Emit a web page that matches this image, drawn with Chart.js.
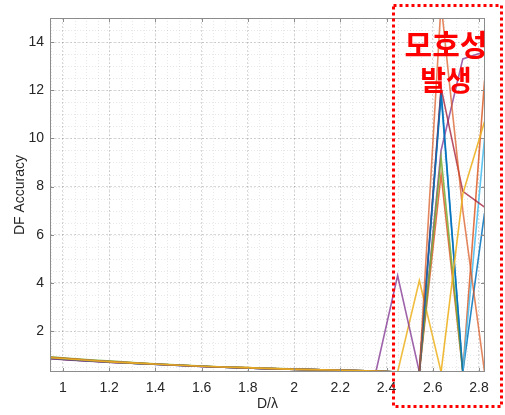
<!DOCTYPE html>
<html>
<head>
<meta charset="utf-8">
<script src="https://cdn.jsdelivr.net/npm/chart.js@4.4.1/dist/chart.umd.min.js"></script>
<style>
  html, body { margin: 0; padding: 0; background: #fff; }
</style>
</head>
<body>
<canvas id="chart" width="505" height="415"></canvas>
<script>
// D/lambda sample points
var dLambda = [0.944, 1.038, 1.132, 1.226, 1.320, 1.414, 1.508, 1.602, 1.696, 1.790, 1.884,
  1.978, 2.072, 2.166, 2.260, 2.354, 2.448, 2.542, 2.636, 2.730, 2.824];

var xTicks = [1, 1.2, 1.4, 1.6, 1.8, 2, 2.2, 2.4, 2.6, 2.8];
var xTickLabels = ["1", "1.2", "1.4", "1.6", "1.8", "2", "2.2", "2.4", "2.6", "2.8"];
var yTicks = [2, 4, 6, 8, 10, 12, 14];
var yTickLabels = ["2", "4", "6", "8", "10", "12", "14"];

// DF accuracy per run (MATLAB colour order)
var run1 = [0.86, 0.80, 0.75, 0.70, 0.65, 0.61, 0.57, 0.53, 0.50, 0.47, 0.44, 0.42, 0.40, 0.38, 0.36, 0.34, 0.30, 0.30, 12.0, 0.30, 6.9];
var run2 = [0.90, 0.84, 0.78, 0.72, 0.67, 0.62, 0.58, 0.54, 0.51, 0.48, 0.45, 0.42, 0.40, 0.38, 0.36, 0.34, 0.30, 0.30, 8.5, 0.30, 12.4];
var run3 = [0.88, 0.82, 0.76, 0.71, 0.66, 0.62, 0.58, 0.54, 0.50, 0.47, 0.44, 0.42, 0.40, 0.38, 0.36, 0.34, 0.30, 4.1, 0.30, 0.30, 0.30];
var run4 = [0.85, 0.79, 0.74, 0.69, 0.65, 0.61, 0.57, 0.53, 0.50, 0.47, 0.44, 0.42, 0.40, 0.38, 0.36, 0.31, 4.3, 0.30, 9.5, 13.3, 13.6];
var run5 = [0.93, 0.86, 0.80, 0.74, 0.68, 0.63, 0.59, 0.55, 0.51, 0.48, 0.45, 0.43, 0.40, 0.38, 0.36, 0.34, 0.30, 0.30, 9.2, 0.30, 0.30];
var run6 = [0.87, 0.81, 0.76, 0.71, 0.66, 0.61, 0.57, 0.54, 0.50, 0.47, 0.44, 0.42, 0.40, 0.38, 0.36, 0.34, 0.30, 0.30, 0.30, 0.30, 10.0];
var run7 = [0.86, 0.80, 0.75, 0.70, 0.65, 0.61, 0.57, 0.53, 0.50, 0.47, 0.44, 0.42, 0.40, 0.38, 0.36, 0.34, 0.30, 0.30, 12.1, 7.8, 7.15];
var run8 = [0.88, 0.82, 0.76, 0.71, 0.66, 0.62, 0.58, 0.54, 0.50, 0.47, 0.44, 0.42, 0.40, 0.38, 0.36, 0.34, 0.30, 0.30, 11.8, 0.30, 0.30];
var run9 = [0.91, 0.85, 0.78, 0.72, 0.67, 0.62, 0.58, 0.54, 0.50, 0.47, 0.44, 0.42, 0.40, 0.38, 0.36, 0.34, 0.30, 0.30, 15.6, 7.0, 0.30];
var run10 = [0.89, 0.83, 0.77, 0.71, 0.67, 0.62, 0.58, 0.54, 0.51, 0.48, 0.45, 0.42, 0.40, 0.38, 0.36, 0.34, 0.30, 0.30, 0.30, 7.7, 10.7];

var runs = [run1, run2, run3, run4, run5, run6, run7, run8, run9, run10];
var runColors = [
  "rgba(0, 114, 189, 0.85)", "rgba(217, 83, 25, 0.8)", "rgba(237, 177, 32, 0.85)",
  "rgba(126, 47, 142, 0.75)", "rgba(119, 172, 48, 0.85)", "rgba(77, 190, 238, 0.9)",
  "rgba(162, 20, 47, 0.75)", "rgba(0, 114, 189, 0.85)", "rgba(217, 83, 25, 0.7)",
  "rgba(237, 177, 32, 0.9)"
];

var datasets = runs.map(function (r, i) {
  return {
    label: "run " + (i + 1),
    data: r,
    borderColor: runColors[i],
    borderWidth: 1.6,
    pointRadius: 0,
    fill: false,
    tension: 0,
    order: runs.length - i // later runs on top, like MATLAB
  };
});

var axisGrey = "#8c8c8c";
var textColor = "#262626";
var fontFamily = '"Liberation Sans", Arial, sans-serif';

// minor grid, drawn under the lines
var minorGrid = {
  id: "minorGrid",
  beforeDatasetsDraw: function (chart) {
    var ctx = chart.ctx, a = chart.chartArea;
    var xs = chart.scales.x, ys = chart.scales.y;
    ctx.save();
    ctx.strokeStyle = "rgba(0,0,0,0.09)";
    ctx.lineWidth = 1;
    ctx.setLineDash([1, 2]);
    var v, p;
    for (v = 0.95; v < xs.max; v += 0.05) {
      p = Math.round(xs.getPixelForValue(v)) + 0.5;
      ctx.beginPath(); ctx.moveTo(p, a.top); ctx.lineTo(p, a.bottom); ctx.stroke();
    }
    for (v = 0.5; v < ys.max; v += 0.5) {
      p = Math.round(ys.getPixelForValue(v)) + 0.5;
      ctx.beginPath(); ctx.moveTo(a.left, p); ctx.lineTo(a.right, p); ctx.stroke();
    }
    ctx.restore();
  }
};

// axes box with inward ticks
var axesBox = {
  id: "axesBox",
  afterDatasetsDraw: function (chart) {
    var ctx = chart.ctx, a = chart.chartArea;
    var xs = chart.scales.x, ys = chart.scales.y;
    ctx.save();
    ctx.strokeStyle = axisGrey;
    ctx.lineWidth = 1;
    ctx.strokeRect(a.left + 0.5, a.top + 0.5, a.right - a.left - 1, a.bottom - a.top - 1);
    ctx.beginPath();
    xTicks.forEach(function (t) {
      var p = Math.round(xs.getPixelForValue(t)) + 0.5;
      ctx.moveTo(p, a.bottom); ctx.lineTo(p, a.bottom - 4);
      ctx.moveTo(p, a.top); ctx.lineTo(p, a.top + 4);
    });
    yTicks.forEach(function (t) {
      var p = Math.round(ys.getPixelForValue(t)) + 0.5;
      ctx.moveTo(a.left, p); ctx.lineTo(a.left + 4, p);
      ctx.moveTo(a.right, p); ctx.lineTo(a.right - 4, p);
    });
    ctx.stroke();
    ctx.restore();
  }
};

// red dotted box and label
var ambiguityNote = {
  id: "ambiguityNote",
  afterDraw: function (chart) {
    var ctx = chart.ctx;
    ctx.save();
    ctx.strokeStyle = "#ff0000";
    ctx.lineWidth = 3;
    ctx.setLineDash([3, 3]);
    ctx.strokeRect(393.5, 5.5, 108, 401);
    ctx.setLineDash([]);
    ctx.fillStyle = "#ff0000";
    ctx.textAlign = "center";
    ctx.textBaseline = "middle";
    ctx.font = 'bold 30px "Noto Sans CJK KR", sans-serif';
    ctx.fillText("모호성", 446, 45);
    ctx.font = 'bold 28px "Noto Sans CJK KR", sans-serif';
    ctx.fillText("발생", 446, 80);
    ctx.restore();
  }
};

new Chart(document.getElementById("chart").getContext("2d"), {
  type: "line",
  data: {
    labels: dLambda,
    datasets: datasets
  },
  options: {
    responsive: false,
    animation: false,
    layout: { padding: { top: 18, right: 20, left: 0, bottom: 0 } },
    plugins: {
      legend: { display: false },
      tooltip: { enabled: false }
    },
    scales: {
      x: {
        type: "linear",
        min: 0.944,
        max: 2.826,
        afterBuildTicks: function (scale) {
          scale.ticks = xTicks.map(function (v) { return { value: v }; });
        },
        afterFit: function (scale) { scale.height = 43; },
        ticks: {
          autoSkip: false,
          maxRotation: 0,
          padding: 8,
          color: textColor,
          font: { family: fontFamily, size: 14 },
          callback: function (value, index) { return xTickLabels[index]; }
        },
        grid: { color: "rgba(0,0,0,0.15)", drawTicks: false },
        border: { display: false, dash: [2, 2] },
        title: {
          display: true,
          text: "D/λ",
          color: textColor,
          font: { family: fontFamily, size: 14 },
          padding: { top: 0, bottom: 2 }
        }
      },
      y: {
        min: 0.3,
        max: 15,
        afterBuildTicks: function (scale) {
          scale.ticks = yTicks.map(function (v) { return { value: v }; });
        },
        afterFit: function (scale) { scale.width = 50; },
        ticks: {
          padding: 6,
          color: textColor,
          font: { family: fontFamily, size: 14 },
          callback: function (value, index) { return yTickLabels[index]; }
        },
        grid: { color: "rgba(0,0,0,0.15)", drawTicks: false },
        border: { display: false, dash: [2, 2] },
        title: {
          display: true,
          text: "DF Accuracy",
          color: textColor,
          font: { family: fontFamily, size: 14 },
          padding: { top: 12, bottom: 0 }
        }
      }
    }
  },
  plugins: [minorGrid, axesBox, ambiguityNote]
});
</script>
</body>
</html>
